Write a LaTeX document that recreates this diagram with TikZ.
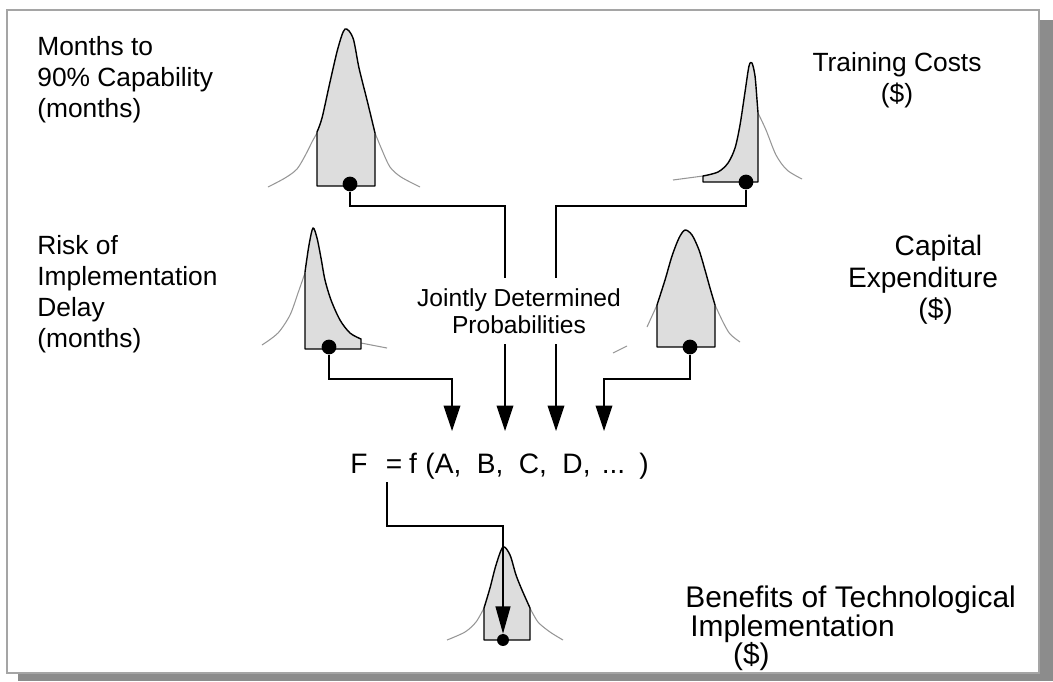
\documentclass[tikz,border=0pt]{standalone}
\usepackage{fontspec}
\setmainfont{Liberation Sans}
\usetikzlibrary{positioning}
\usetikzlibrary{arrows.meta}
\definecolor{shadegray}{RGB}{221,221,221}
\definecolor{tailgray}{RGB}{150,150,150}
\definecolor{framegray}{RGB}{165,165,165}
\definecolor{shadowgray}{RGB}{140,140,140}
\tikzset {
  >={Triangle[length=14.5pt, width=9.5pt]},
  % text labels
  lbl/.style={inner sep=0pt, font=\fontsize{15}{17.6}\selectfont},
  big/.style={font=\fontsize{16}{17.8}\selectfont},
  % shaded part of a distribution
  pdf/.style={draw=black, fill=shadegray, line width=0.8pt, line join=round},
  % thin tails of the full curve
  tail/.style={tailgray, line width=0.6pt},
  % sampled value
  dot/.style={circle, fill=black, inner sep=0pt, minimum size=8.4pt},
  % connectors into the model
  link/.style={line width=0.7pt},
}

\begin{document}
\begin{tikzpicture}[x=0.02cm, y=-0.02cm]
  \useasboundingbox (0,0) rectangle (1053,681);
  % frame with drop shadow
  \fill[shadowgray] (18,673) rectangle (1053,681);
  \fill[shadowgray] (1039,20) rectangle (1053,681);
  \draw[framegray, line width=1.2pt] (7,10) rectangle (1039,673);

  % months to 90% capability
  \draw[tail] plot[smooth] coordinates {(268,187) (285,178) (297,169) (306,154) (312,142) (317,133)};
  \draw[tail] plot[smooth] coordinates {(375,133) (382,150) (390,167) (401,177) (420,187)};
  \draw[pdf] (317,186) -- plot[smooth, tension=0.5] coordinates {(317,132) (322,118) (330,82) (338,48) (345,29) (353,38) (359,68) (367,100) (375,133)} -- (375,186) -- cycle;

  % training costs
  \draw[tail] (673,180) -- (703,176);
  \draw[tail] plot[smooth] coordinates {(758,113) (766,130) (776,155) (787,170) (802,179)};
  \draw[pdf] (703,182) -- plot[smooth, tension=0.5] coordinates {(703,176) (718,172) (728,163) (735,148) (740,125) (745,92) (749,66) (752,63) (755,76) (757,100) (758,113)} -- (758,182) -- cycle;

  % risk of delay
  \draw[tail] plot[smooth] coordinates {(262,345) (278,333) (290,315) (298,293) (305,273)};
  \draw[tail] (361,343) -- (387,348);
  \draw[pdf] (305,349) -- plot[smooth, tension=0.5] coordinates {(305,272) (309,245) (313,228) (317,238) (321,258) (325,280) (331,300) (340,320) (350,333) (361,339)} -- (361,349) -- cycle;

  % capital expenditure
  \draw[tail] (647,327) -- (657,305);
  \draw[tail] (613,353) -- (627,346);
  \draw[tail] plot[smooth] coordinates {(715,305) (723,322) (730,334) (740,342)};
  \draw[pdf] (657,347) -- plot[smooth, tension=0.5] coordinates {(657,305) (665,280) (672,256) (679,238) (685,230) (692,235) (699,250) (705,270) (710,288) (715,305)} -- (715,347) -- cycle;

  % benefits
  \draw[tail] plot[smooth] coordinates {(447,640) (465,632) (476,622) (484,608)};
  \draw[tail] plot[smooth] coordinates {(530,608) (538,622) (550,632) (563,640)};
  \draw[pdf] (484,640) -- plot[smooth, tension=0.5] coordinates {(484,608) (490,588) (496,565) (503,547) (510,555) (516,575) (522,590) (530,608)} -- (530,640) -- cycle;

  % sampled values
  \node[dot] (dM) at (350,184) {};
  \node[dot] (dT) at (746,182) {};
  \node[dot] (dR) at (329,347) {};
  \node[dot] (dC) at (690,347) {};
  \node[dot, minimum size=6.8pt] (dB) at (503,640) {};

  % inputs of f
  \coordinate (inA) at (452,431);
  \coordinate (inB) at (505,431);
  \coordinate (inC) at (556,431);
  \coordinate (inD) at (604,431);
  \coordinate (kM) at (505,206);
  \coordinate (kT) at (556,206);
  \coordinate (kR) at (452,379);
  \coordinate (kC) at (604,379);
  \coordinate (eqs) at (387,482);
  \coordinate (kF) at (503,526);

  \draw[link, ->] (dM) |- (kM) -- (inB);
  \draw[link, ->] (dT) |- (kT) -- (inC);
  \draw[link, ->] (dR) |- (kR) -- (inA);
  \draw[link, ->] (dC) |- (kC) -- (inD);
  \draw[link, ->, >={Triangle[length=15.5pt, width=8.5pt]}] (eqs) |- (kF) -- (dB.north);

  % labels
  \node[lbl, anchor=north west, align=left] (months) at (37,36) {Months to\\90\% Capability\\(months)};
  \node[lbl, anchor=north, align=center] (train) at (897,52) {Training Costs\\(\$)};
  \node[lbl, anchor=north west, align=left] (risk) at (37,235) {Risk of\\Implementation\\Delay\\(months)};
  \node[lbl, big, anchor=north, align=center] (capex) at (923,235) {\hspace*{1.1em}Capital\\Expenditure\\\hspace*{0.9em}(\$)};
  \node[lbl, font=\fontsize{14}{15.3}\selectfont, align=center, fill=white, inner sep=6pt] (joint) at (519,311) {Jointly Determined\\Probabilities};
  \node[lbl, big, anchor=base west] (fx) at (350,473) {F\hspace{0.65em}=\hspace{0.25em}f\hspace{0.3em}(A,\hspace{0.55em}B,\hspace{0.55em}C,\hspace{0.55em}D,\hspace{0.4em}...\hspace{0.5em})};
  \node[lbl, font=\fontsize{17}{16.5}\selectfont, anchor=north west, align=left] (benefit) at (685,585) {Benefits of Technological\\\hspace*{0.17em}Implementation\\\hspace*{1.6em}(\$)};
\end{tikzpicture}
\end{document}
